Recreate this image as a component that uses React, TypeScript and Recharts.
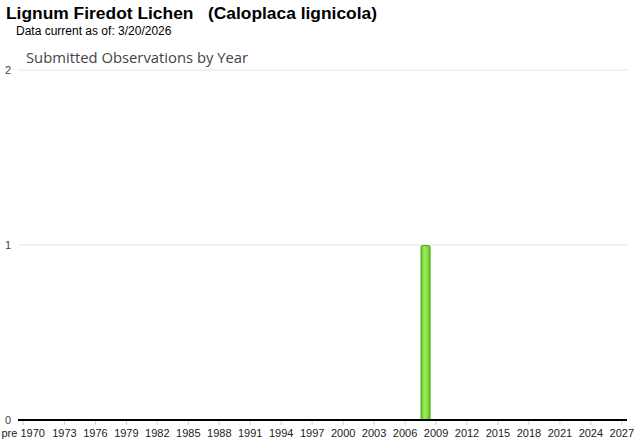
import React from 'react';
import { BarChart, Bar, XAxis, YAxis, CartesianGrid } from 'recharts';

const years: string[] = ['pre 1970'];
for (let y = 1970; y <= 2027; y++) years.push(String(y));

const observedYears = ['2008'];
const observedCounts = [1];

const shownLabels = ['pre 1970', '1973', '1976', '1979', '1982', '1985', '1988', '1991', '1994', '1997', '2000', '2003', '2006', '2009', '2012', '2015', '2018', '2021', '2024', '2027'];
const yTicks = [0, 1, 2];

const data = years.map((c) => {
  const i = observedYears.indexOf(c);
  return { year: c, count: i >= 0 ? observedCounts[i] : 0 };
});

const FONT = '"Liberation Sans", Arial, sans-serif';

const XTick = (props: any) => {
  const { x, payload } = props;
  if (!shownLabels.includes(payload.value)) return null;
  return (
    <g>
      <line x1={x} x2={x} y1={421} y2={425} stroke="#d0d0d0" />
      <text x={x} y={437} textAnchor="middle" fontSize={11} fontFamily={FONT} fill="#222">
        {payload.value}
      </text>
    </g>
  );
};

const YTick = (props: any) => {
  const { y, payload } = props;
  return (
    <text x={8} y={y + 4} textAnchor="middle" fontSize={11} fontFamily={FONT} fill="#444">
      {payload.value}
    </text>
  );
};

const BarShape = (props: any) => {
  const { x, y, width, height } = props;
  if (!height || height <= 0) return null;
  return (
    <g>
      <rect x={x + 0.5} y={y + 0.5} width={width - 1} height={height - 0.5} rx={1.5} fill="url(#barGrad)" stroke="#4aa81a" strokeWidth={1} />
    </g>
  );
};

export default function App() {
  return (
    <div style={{ position: 'absolute', left: 0, top: 0, width: 640, height: 442, background: '#fff' }}>
      <div style={{ position: 'absolute', left: 6, top: 3, fontFamily: FONT, fontWeight: 'bold', fontSize: 17.4, color: '#000', whiteSpace: 'pre' }}>
        {'Lignum Firedot Lichen   (Caloplaca lignicola)'}
      </div>
      <div style={{ position: 'absolute', left: 16, top: 24, fontFamily: FONT, fontSize: 12, color: '#000' }}>
        Data current as of: 3/20/2026
      </div>
      <div style={{ position: 'absolute', left: 26, top: 47, fontFamily: '"Open Sans", "Noto Sans", sans-serif', fontSize: 14.8, color: '#444' }}>
        Submitted Observations by Year
      </div>
      <BarChart
        width={640}
        height={442}
        data={data}
        margin={{ top: 70, right: 13, left: 0, bottom: 0 }}
        barCategoryGap={0}
        style={{ position: 'absolute', left: 0, top: 0 }}
      >
        <defs>
          <linearGradient id="barGrad" x1="0" y1="0" x2="1" y2="0">
            <stop offset="0%" stopColor="#5cc21f" />
            <stop offset="35%" stopColor="#9be85a" />
            <stop offset="65%" stopColor="#8ee04a" />
            <stop offset="100%" stopColor="#5cc21f" />
          </linearGradient>
        </defs>
        <CartesianGrid horizontal vertical={false} stroke="#e4e4e4" />
        <XAxis
          dataKey="year"
          interval={0}
          tick={<XTick />}
          tickLine={false}
          axisLine={{ stroke: '#000', strokeWidth: 2 }}
          height={22}
        />
        <YAxis
          width={18}
          domain={[0, 2]}
          ticks={yTicks}
          tick={<YTick />}
          tickLine={false}
          axisLine={false}
          interval={0}
        />
        <Bar dataKey="count" isAnimationActive={false} shape={<BarShape />} />
      </BarChart>
    </div>
  );
}
